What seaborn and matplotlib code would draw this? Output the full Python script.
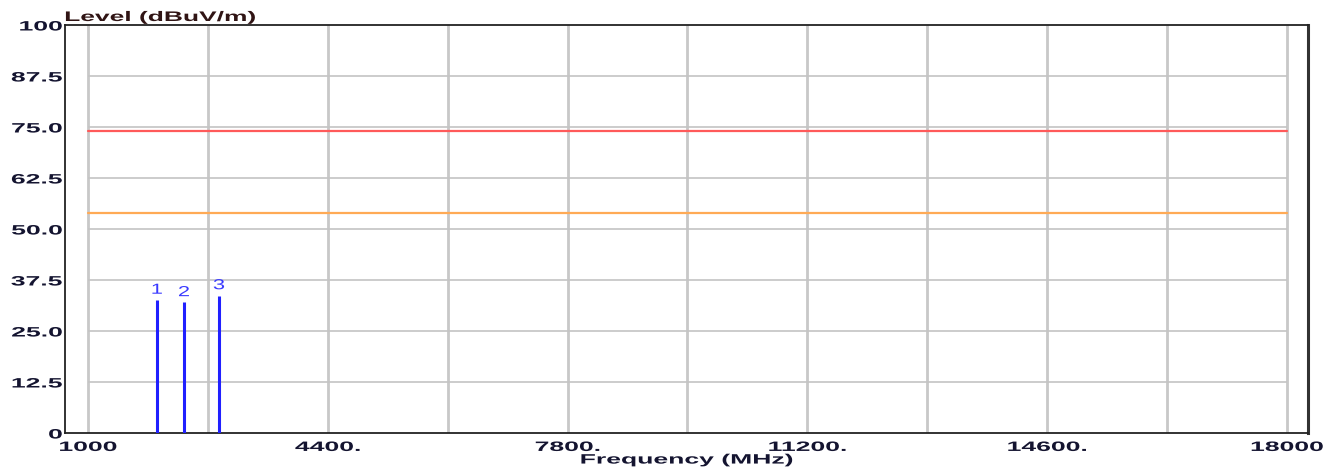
import numpy as np
import pandas as pd
import matplotlib
matplotlib.use('Agg')
import matplotlib.pyplot as plt
import seaborn as sns
from matplotlib.patheffects import AbstractPathEffect
from matplotlib.transforms import Affine2D

sns.set_theme(style="white")
plt.rcParams['font.family'] = ['Liberation Sans', 'DejaVu Sans']

# ── DATA ─────────────────────────────────────────────
peak_freq = [1978, 2361, 2857]          # MHz
peak_level = [32.6, 32.0, 33.7]         # dBuV/m
peak_labels = ['1', '2', '3']

limit_freq = [1000, 18000]
peak_limit = [74, 74]                   # red line
avg_limit = [54, 54]                    # orange line

x_grid = [1000, 2700, 4400, 6100, 7800, 9500, 11200, 12900, 14600, 16300, 18000]
x_ticks = [1000, 4400, 7800, 11200, 14600, 18000]
x_ticklabels = ['1000', '4400.', '7800.', '11200.', '14600.', '18000']
y_ticks = [0, 12.5, 25.0, 37.5, 50.0, 62.5, 75.0, 87.5, 100]
y_ticklabels = ['0', '12.5', '25.0', '37.5', '50.0', '62.5', '75.0', '87.5', '100']


class Stretch(AbstractPathEffect):
    """Stretch text glyphs horizontally around an anchor (left/center/right)."""
    def __init__(self, sx=1.95, anchor='left'):
        super().__init__()
        self.sx = sx
        self.anchor = anchor

    def draw_path(self, renderer, gc, tpath, affine, rgbFace=None):
        ext = tpath.get_extents()
        x0 = {'left': ext.x0, 'center': (ext.x0 + ext.x1) / 2,
              'right': ext.x1}[self.anchor]
        t = Affine2D().translate(-x0, 0).scale(self.sx, 1).translate(x0, 0) + affine
        renderer.draw_path(gc, tpath, t, rgbFace)


fig = plt.figure(figsize=(13.44, 4.70), dpi=100)
ax = fig.add_axes([65 / 1344, 1 - 433 / 470, (1308 - 65) / 1344, (433 - 25) / 470])

# ── GRID ─────────────────────────────────────────────
ax.vlines(x_grid, 0, 100, color='#c8c8c8', linewidth=2.0, zorder=1)
ax.hlines(y_ticks[1:-1], limit_freq[0], limit_freq[1], color='#c4c4c4',
          linewidth=1.2, zorder=1)

# ── LIMIT LINES ──────────────────────────────────────
lim = pd.DataFrame({'freq': limit_freq * 2,
                    'level': peak_limit + avg_limit,
                    'kind': ['peak'] * 2 + ['avg'] * 2})
sns.lineplot(data=lim, x='freq', y='level', hue='kind',
             palette={'peak': '#ff5a5a', 'avg': '#ffaa55'},
             linewidth=1.6, legend=False, ax=ax, zorder=2)

# ── PEAKS ────────────────────────────────────────────
ax.vlines(peak_freq, 0, peak_level, color='#2020ff', linewidth=2.2, zorder=3)
for f, lv, lab in zip(peak_freq, peak_level, peak_labels):
    t = ax.text(f, lv + 0.8, lab, color='#3a3aff', fontsize=10.5,
                ha='center', va='bottom', zorder=4)
    t.set_path_effects([Stretch(1.5, 'center')])

# ── AXES ─────────────────────────────────────────────
ax.set_xlim(674, 18298)
ax.set_ylim(0, 100)
ax.set_xticks(x_ticks)
ax.set_xticklabels(x_ticklabels, fontsize=9.8, fontweight='bold', color='#141430')
ax.set_yticks(y_ticks)
ax.set_yticklabels(y_ticklabels, fontsize=9.8, fontweight='bold', color='#141430')
ax.tick_params(axis='x', length=0, pad=5)
ax.tick_params(axis='y', length=0, pad=2)
for lab in ax.get_xticklabels():
    lab.set_path_effects([Stretch(1.95, 'center')])
for lab in ax.get_yticklabels():
    lab.set_path_effects([Stretch(1.95, 'right')])

for side in ['left', 'bottom', 'top']:
    ax.spines[side].set_color('#222222')
    ax.spines[side].set_linewidth(1.3)
ax.spines['right'].set_color('#333333')
ax.spines['right'].set_linewidth(2.2)

xl = ax.set_xlabel('Frequency (MHz)', fontsize=9.8, fontweight='bold',
                   color='#141430', labelpad=-1)
xl.set_path_effects([Stretch(1.95, 'center')])
ax.set_ylabel('')

title = fig.text(65 / 1344, 1 - 21 / 470, 'Level (dBuV/m)', fontsize=10,
                 fontweight='bold', color='#301414', ha='left', va='baseline')
title.set_path_effects([Stretch(1.9, 'left')])

fig.savefig('out.png', dpi=100)
